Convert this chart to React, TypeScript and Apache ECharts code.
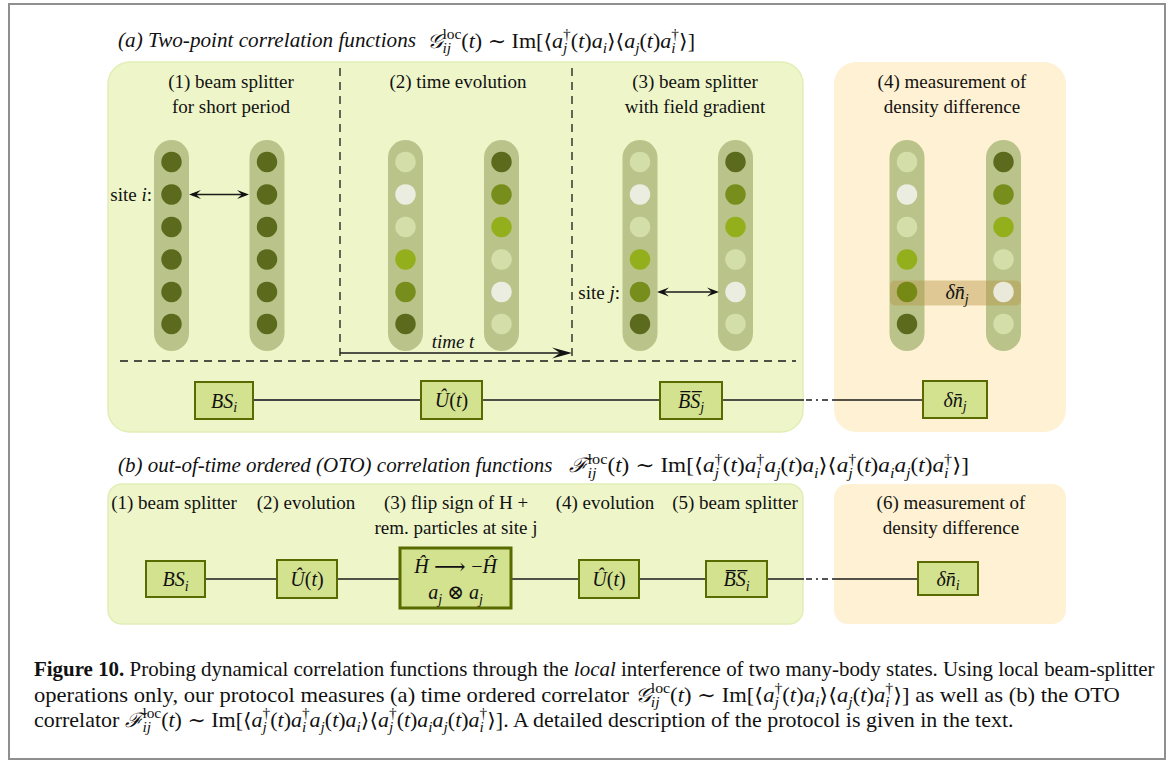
import React, { useEffect, useRef } from "react";
import * as echarts from "echarts";

// ---------------- data ----------------
// occupation level of each site (top -> bottom); 0 empty ... 4 full
const siteRows = ["1", "2", "3", "4", "5", "6"];
const stage1Left = [4, 4, 4, 4, 4, 4];
const stage1Right = [4, 4, 4, 4, 4, 4];
const stage2Left = [1, 0, 1, 2, 3, 4];
const stage2Right = [4, 3, 2, 1, 0, 1];
const stage3Left = [1, 0, 1, 2, 3, 4];
const stage3Right = [4, 3, 2, 1, 0, 1];
const stage4Left = [1, 0, 1, 2, 3, 4];
const stage4Right = [4, 3, 2, 1, 0, 1];

const panelALabels = [
  "(1) beam splitter\nfor short period",
  "(2) time evolution",
  "(3) beam splitter\nwith field gradient",
  "(4) measurement of\ndensity difference",
];
const panelBLabels = [
  "(1) beam splitter",
  "(2) evolution",
  "(3) flip sign of H +\nrem. particles at site j",
  "(4) evolution",
  "(5) beam splitter",
  "(6) measurement of\ndensity difference",
];

// ---------------- layout / style ----------------
const W = 1168;
const H = 760;
const SERIF = "'Liberation Serif', 'Times New Roman', 'DejaVu Serif', serif";
const LEVEL_COLORS = ["#f8f8f6", "#dbe5b0", "#8aaa00", "#668000", "#435400"];
const TUBE = "#bac48a";
const GREEN = "#eef6c9";
const GREEN_EDGE = "#e1eeb6";
const ORANGE = "#fff1d3";
const BOX_FILL = "#d3e28e";
const BOX_EDGE = "#596a00";
const INK = "#111";

const COLUMN_X = [
  [171.5, 267],
  [405.5, 501.5],
  [640, 735.5],
  [907, 1003.5],
];
const ROW_Y = [162, 194.5, 227, 259.5, 292, 324];

function rich(size: number) {
  const lh = Math.round(size * 1.4);
  const s = Math.round(size * 0.68);
  const sl = Math.round(size * 0.92);
  const base = { fontFamily: SERIF, fill: INK };
  return {
    n: { ...base, fontSize: size, lineHeight: lh },
    i: { ...base, fontSize: size, lineHeight: lh, fontStyle: "italic" },
    b: { ...base, fontSize: size, lineHeight: lh, fontWeight: "bold" },
    arr: { ...base, fontSize: Math.round(size * 1.1), lineHeight: lh },
    sup: { ...base, fontSize: s, lineHeight: sl, verticalAlign: "top" },
    sub: { ...base, fontSize: s, lineHeight: sl, verticalAlign: "bottom" },
    subi: { ...base, fontSize: s, lineHeight: sl, verticalAlign: "bottom", fontStyle: "italic" },
    // zero-advance subscript: the following superscript is stacked above it
    subz: { ...base, fontSize: s, lineHeight: sl, verticalAlign: "bottom", fontStyle: "italic", width: 0 },
  };
}

let measureCtx: CanvasRenderingContext2D | null = null;
function measureRich(text: string, size: number): number {
  if (!measureCtx) measureCtx = document.createElement("canvas").getContext("2d");
  const styles: any = rich(size);
  let w = 0;
  const re = /\{(\w+)\|([^}]*)\}/g;
  let m: RegExpExecArray | null;
  while ((m = re.exec(text))) {
    const st = styles[m[1]] || styles.n;
    if (st.width === 0) continue;
    measureCtx!.font = `${st.fontStyle || "normal"} ${st.fontWeight || "normal"} ${st.fontSize}px ${SERIF}`;
    w += measureCtx!.measureText(m[2]).width;
  }
  return w;
}

const A = (dag: boolean, sub: string) =>
  dag ? `{i|a}{subz|${sub}}{sup|†}` : `{i|a}{subi|${sub}}`;
const T = "{n|(}{i|t}{n|)}";
const G_FORMULA = `{i|𝒢}{subz|ij}{sup|loc}${T}{n| ∼ Im[⟨}${A(true, "j")}${T}${A(false, "i")}{n|⟩⟨}${A(false, "j")}${T}${A(true, "i")}{n|⟩]}`;
const F_FORMULA = `{i|ℱ}{subz|ij}{sup|loc}${T}{n| ∼ Im[⟨}${A(true, "j")}${T}${A(true, "i")}${A(false, "j")}${T}${A(false, "i")}{n|⟩⟨}${A(true, "j")}${T}${A(false, "i")}${A(false, "j")}${T}${A(true, "i")}{n|⟩]}`;

function txt(x: number, y: number, text: string, size: number, opts: any = {}) {
  const align = opts.align || "left";
  let scaleX = 1;
  if (opts.fit) {
    const mw = measureRich(text, size);
    if (mw > 0) scaleX = Math.max(0.8, Math.min(1.25, opts.fit / mw));
  }
  return {
    type: "text",
    x,
    y,
    z: opts.z ?? 20,
    silent: true,
    scaleX,
    style: {
      text,
      rich: rich(size),
      fontFamily: SERIF,
      fontSize: size,
      lineHeight: opts.lineHeight,
      fill: INK,
      align,
      textAlign: align,
      verticalAlign: "middle",
      textVerticalAlign: "middle",
    },
  };
}

function rect(x: number, y: number, w: number, h: number, fill: string, opts: any = {}) {
  return {
    type: "rect",
    z: opts.z ?? 1,
    silent: true,
    shape: { x, y, width: w, height: h, r: opts.r || 0 },
    style: { fill, stroke: opts.stroke || null, lineWidth: opts.lw || 0 },
  };
}

function seg(x1: number, y1: number, x2: number, y2: number, opts: any = {}) {
  return {
    type: "line",
    z: opts.z ?? 3,
    silent: true,
    shape: { x1, y1, x2, y2 },
    style: { stroke: opts.stroke || "#1a1a1a", lineWidth: opts.lw || 1.3, lineDash: opts.dash || null },
  };
}

function head(tx: number, ty: number, dir: number, L = 11, Wd = 4) {
  return {
    type: "polygon",
    z: 4,
    silent: true,
    shape: {
      points: [
        [tx, ty],
        [tx - dir * L, ty - Wd],
        [tx - dir * L * 0.6, ty],
        [tx - dir * L, ty + Wd],
      ],
    },
    style: { fill: "#111" },
  };
}

function box(x: number, y: number, w: number, h: number, label: string, lw = 2) {
  return [
    rect(x, y, w, h, BOX_FILL, { stroke: BOX_EDGE, lw, z: 6 }),
    txt(x + w / 2, y + h / 2, label, 20, { align: "center", z: 7 }),
  ];
}

function buildGraphic() {
  const g: any[] = [];
  // frame
  g.push(rect(9, 4, 1156, 755, "#fff", { stroke: "#8f8f8f", lw: 2, z: 0 }));
  // panels
  g.push(rect(108, 62, 695, 370, GREEN, { r: 22, stroke: GREEN_EDGE, lw: 1.5, z: 0 }));
  g.push(rect(834, 62, 232, 370, ORANGE, { r: 22, z: 0 }));
  g.push(rect(108, 484, 695, 140, GREEN, { r: 14, stroke: GREEN_EDGE, lw: 1.5, z: 0 }));
  g.push(rect(834, 484, 232, 140, ORANGE, { r: 14, z: 0 }));

  // titles
  g.push(txt(118, 40, "{i|(a) Two-point correlation functions}", 21, { fit: 298 }));
  g.push(txt(427, 41, G_FORMULA, 20, { fit: 268 }));
  g.push(txt(118, 465, "{i|(b) out-of-time ordered (OTO) correlation functions}", 21, { fit: 435 }));
  g.push(txt(569, 466, F_FORMULA, 20, { fit: 400 }));

  // tubes
  COLUMN_X.forEach((pair) =>
    pair.forEach((cx) => g.push(rect(cx - 17.5, 140, 35, 211, TUBE, { r: 17.5, z: 1 })))
  );

  // panel (a) labels
  const aCenters = [231, 458, 695, 952];
  panelALabels.forEach((t, k) => {
    const two = t.includes("\n");
    g.push(txt(aCenters[k], two ? 93.5 : 81, t, 19, { align: "center", lineHeight: 25 }));
  });

  // dashed separators
  g.push(seg(340, 68, 340, 356, { dash: [8, 6] }));
  g.push(seg(572, 68, 572, 356, { dash: [8, 6] }));
  g.push(seg(120, 361, 796, 361, { dash: [8, 6] }));

  // time arrow
  g.push(seg(340, 353, 564, 353, { lw: 1.5 }));
  g.push(head(572, 353, 1, 20, 5.5));
  g.push(txt(453, 341, "{i|time t}", 19, { align: "center" }));

  // site i
  g.push(txt(152, 194.5, "{n|site }{i|i}{n|:}", 19, { align: "right" }));
  g.push(seg(192, 194.5, 246, 194.5, { lw: 1.4 }));
  g.push(head(189, 194.5, -1, 12, 4.5));
  g.push(head(249, 194.5, 1, 12, 4.5));
  // site j
  g.push(txt(620, 292, "{n|site }{i|j}{n|:}", 19, { align: "right" }));
  g.push(seg(660, 292, 716, 292, { lw: 1.4 }));
  g.push(head(657, 292, -1, 12, 4.5));
  g.push(head(719, 292, 1, 12, 4.5));

  // density difference band
  g.push(rect(890, 280.5, 131, 25, "rgba(185,150,70,0.45)", { r: 5, z: 2 }));
  g.push(txt(957, 292, "{i|δn̄}{subi|j}", 20, { align: "center" }));

  // row (a) operation chain
  g.push(seg(253, 400, 421, 400, { stroke: "#444", lw: 1.8 }));
  g.push(seg(482, 400, 660, 400, { lw: 1.4 }));
  g.push(seg(722, 400, 804, 400, { lw: 1.4 }));
  g.push(seg(806, 400, 830, 400, { lw: 1.4, dash: [6, 4, 2, 4] }));
  g.push(seg(832, 400, 923, 400, { lw: 1.4 }));
  g.push(...box(195, 382, 58, 37, "{i|BS}{subi|i}"));
  g.push(...box(421, 381, 61, 38, "{i|Û}" + T));
  g.push(...box(660, 382, 62, 37, "{i|B̅S̅}{subi|j}"));
  g.push(...box(923, 381, 64, 37, "{i|δn̄}{subi|j}"));

  // panel (b) labels
  const bCenters = [174, 306, 456, 605, 735, 951];
  panelBLabels.forEach((t, k) => {
    const two = t.includes("\n");
    g.push(txt(bCenters[k], two ? 514.5 : 502, t, 19, { align: "center", lineHeight: 25 }));
  });

  // row (b) operation chain
  g.push(seg(205, 579, 277, 579, { lw: 1.4 }));
  g.push(seg(337, 579, 400, 579, { lw: 1.4 }));
  g.push(seg(511, 579, 579, 579, { lw: 1.4 }));
  g.push(seg(639, 579, 706, 579, { lw: 1.4 }));
  g.push(seg(767, 579, 804, 579, { lw: 1.4 }));
  g.push(seg(806, 579, 830, 579, { lw: 1.4, dash: [6, 4, 2, 4] }));
  g.push(seg(832, 579, 918, 579, { lw: 1.4 }));
  g.push(...box(146, 561, 59, 36, "{i|BS}{subi|i}"));
  g.push(...box(277, 560, 60, 38, "{i|Û}" + T));
  g.push(rect(400, 548, 111, 60, BOX_FILL, { stroke: BOX_EDGE, lw: 3, z: 6 }));
  g.push(txt(455.5, 566, "{i|Ĥ}{arr| ⟶ }{n|−}{i|Ĥ}", 20, { align: "center", z: 7 }));
  g.push(txt(455.5, 592, "{i|a}{subi|j}{n| ⊗ }{i|a}{subi|j}", 20, { align: "center", z: 7 }));
  g.push(...box(579, 560, 60, 38, "{i|Û}" + T));
  g.push(...box(706, 561, 61, 36, "{i|B̅S̅}{subi|i}"));
  g.push(...box(918, 562, 60, 33, "{i|δn̄}{subi|i}"));

  // caption
  const L1 = "{b|Figure 10.}{n| Probing dynamical correlation functions through the }{i|local}{n| interference of two many-body states. Using local beam-splitter}";
  const L2 = `{n|operations only, our protocol measures (a) time ordered correlator }${G_FORMULA}{n| as well as (b) the OTO}`;
  const L3 = `{n|correlator }${F_FORMULA}{n|. A detailed description of the protocol is given in the text.}`;
  g.push(txt(34, 669, L1, 20, { fit: 1121 }));
  g.push(txt(34, 695, L2, 20, { fit: 1086 }));
  g.push(txt(34, 720, L3, 20, { fit: 982 }));
  return g;
}

export default function App() {
  const ref = useRef<HTMLDivElement>(null);
  useEffect(() => {
    if (!ref.current) return;
    const chart = echarts.init(ref.current, null, { renderer: "svg", width: W, height: H });
    const stages = [
      [stage1Left, stage1Right],
      [stage2Left, stage2Right],
      [stage3Left, stage3Right],
      [stage4Left, stage4Right],
    ];
    const dots: any[] = [];
    stages.forEach((cols, k) =>
      cols.forEach((col, c) =>
        col.forEach((lvl, r) =>
          dots.push({
            name: `stage ${k + 1} ${c === 0 ? "left" : "right"} site ${siteRows[r]}`,
            value: [COLUMN_X[k][c], ROW_Y[r], lvl],
            itemStyle: { color: LEVEL_COLORS[lvl] },
          })
        )
      )
    );
    chart.setOption({
      animation: false,
      backgroundColor: "#ffffff",
      grid: { left: 0, right: 0, top: 0, bottom: 0 },
      xAxis: { type: "value", min: 0, max: W, show: false },
      yAxis: { type: "value", min: 0, max: H, inverse: true, show: false },
      graphic: { elements: buildGraphic() },
      series: [
        {
          type: "scatter",
          data: dots,
          symbol: "circle",
          symbolSize: 20.5,
          z: 10,
          silent: true,
        },
      ],
    });
    return () => chart.dispose();
  }, []);
  return (
    <div
      ref={ref}
      style={{ position: "fixed", left: 0, top: 0, width: W, height: H, background: "#fff" }}
    />
  );
}
